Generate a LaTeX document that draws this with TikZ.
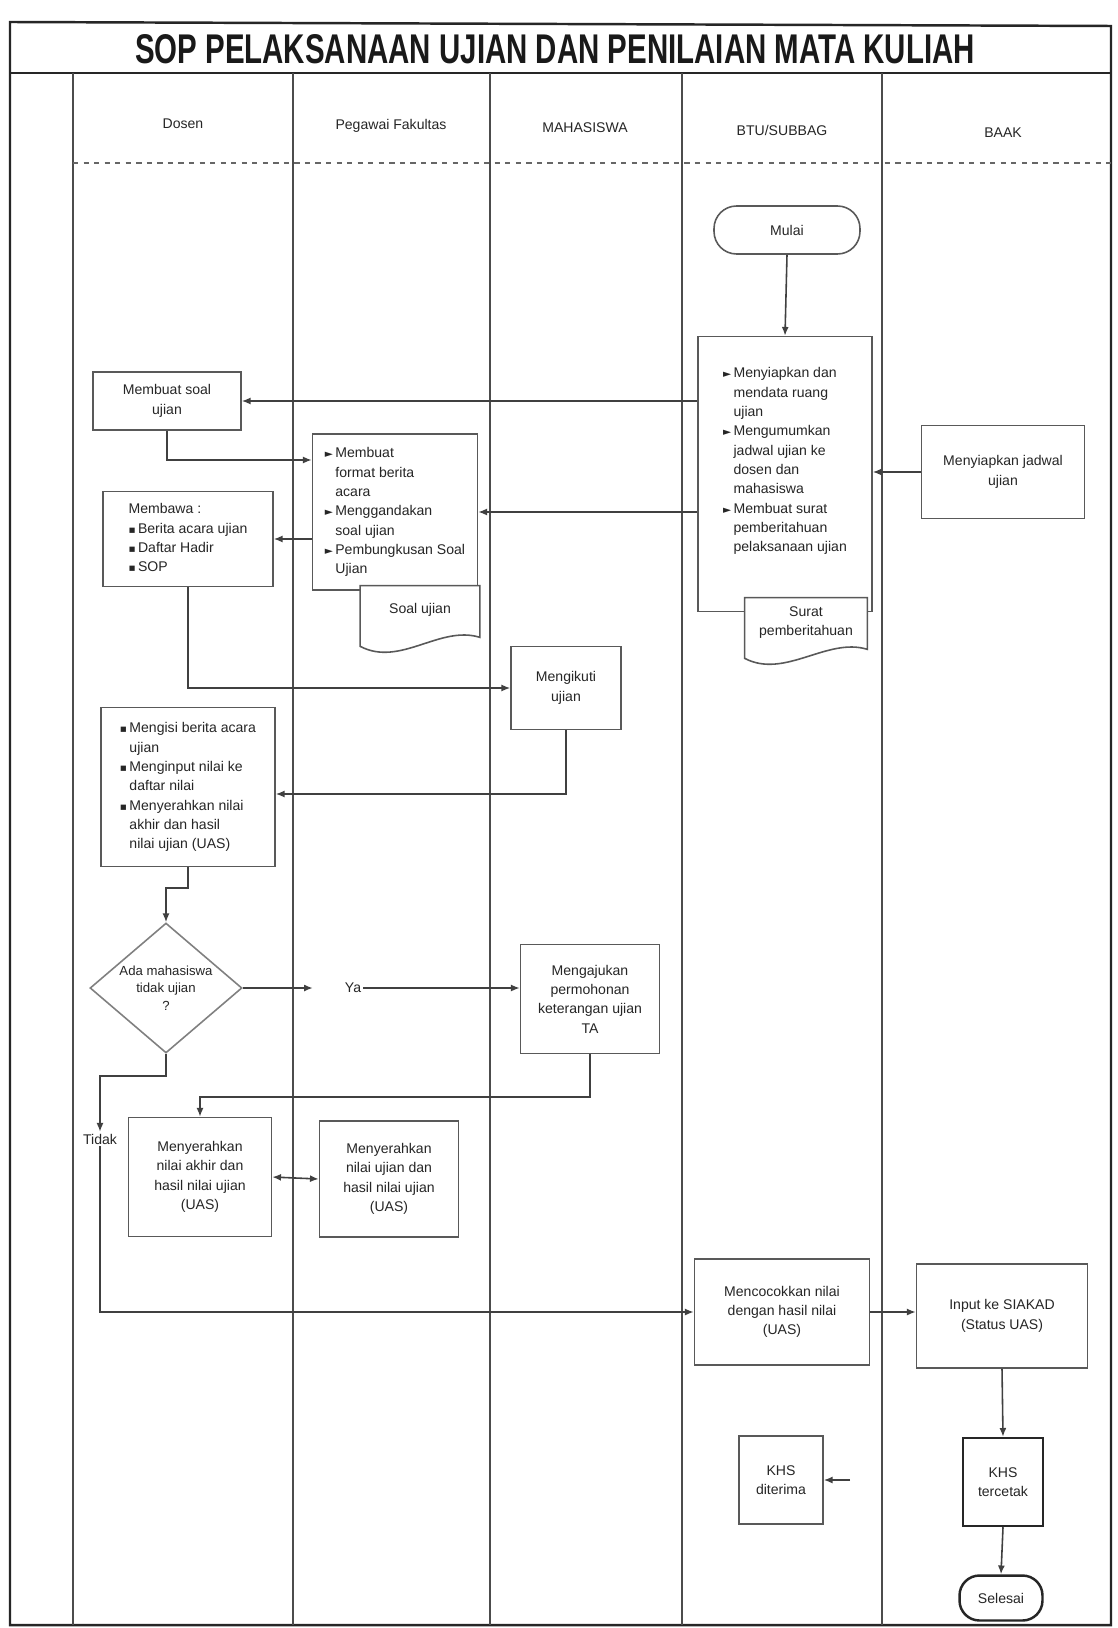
\documentclass[tikz,border=0pt]{standalone}
\usepackage{fontspec}
\setmainfont{Liberation Sans}
\newfontfamily\symf{DejaVu Sans}
\usetikzlibrary{shapes.geometric,arrows.meta}
\newcommand\bsq{{\symf\fontsize{6}{6}\selectfont ▪}}
\newcommand\barr{{\symf\fontsize{6}{6}\selectfont ►}}
\newcommand\docpath[1]{\filldraw[docline] (#1.north west) -- ([yshift=0.12cm]#1.south west) .. controls ([xshift=0.8cm,yshift=-0.3cm]#1.south west) and ([xshift=-0.8cm,yshift=0.55cm]#1.south east) .. ([yshift=0.3cm]#1.south east) -- (#1.north east) -- cycle;}
\tikzset{
  frame/.style={draw=black!85, line width=1.4pt},
  lane/.style={draw=black!70, line width=0.9pt},
  box/.style={draw=black!65, line width=0.9pt, fill=white, font=\fontsize{8}{11}\selectfont, align=center, inner sep=2pt, text=black!85},
  thickbox/.style={box, draw=black!85, line width=1.4pt},
  docline/.style={draw=black!65, line width=0.9pt, fill=white},
  doctext/.style={font=\fontsize{8}{11}\selectfont, align=center, text=black!85},
  hdr/.style={font=\fontsize{8}{10}\selectfont, text=black!85},
  lbl/.style={font=\fontsize{8}{10}\selectfont, text=black!85, inner sep=1pt},
  arr/.style={-{Latex[length=5pt,width=4pt]}, draw=black!75, line width=0.9pt},
  arrb/.style={{Latex[length=5pt,width=4pt]}-{Latex[length=5pt,width=4pt]}, draw=black!75, line width=0.9pt},
  ln/.style={draw=black!75, line width=0.9pt}
}
\begin{document}
\begin{tikzpicture}[x=0.02cm,y=-0.02cm]
\useasboundingbox (0,0) rectangle (1117,1628);
\fill[white] (0,0) rectangle (1117,1628);
% frame and lanes
\draw[frame] (10,22) -- (1111,26) -- (1111,1625) -- (10,1625) -- cycle;
\draw[frame] (10,73) -- (1111,73);
\foreach \x in {73,293,490,682,882} \draw[lane] (\x,73) -- (\x,1625);
\draw[dashed, black!60, line width=0.6pt] (73,163) -- (1111,163);
\node[text=black!90] (title) at (555,49) {\resizebox{16.8cm}{0.58cm}{\bfseries SOP PELAKSANAAN UJIAN DAN PENILAIAN MATA KULIAH}};
% headers
\node[hdr] (h1) at (183,124) {Dosen};
\node[hdr] (h2) at (391,126) {Pegawai Fakultas};
\node[hdr] (h3) at (585,128) {MAHASISWA};
\node[hdr] (h4) at (782,130) {BTU/SUBBAG};
\node[hdr] (h5) at (1003,133) {BAAK};
% nodes
\node[box, rounded corners=0.45cm, minimum width=2.92cm, minimum height=0.96cm] (mulai) at (787,230) {Mulai};
\node[box, minimum width=3.48cm, minimum height=5.5cm] (btu1) at (785,474) {\begin{tabular}{@{}l@{\,}l@{}}
\barr & Menyiapkan dan\\ & mendata ruang\\ & ujian\\
\barr & Mengumumkan\\ & jadwal ujian ke\\ & dosen dan\\ & mahasiswa\\
\barr & Membuat surat\\ & pemberitahuan\\ & pelaksanaan ujian\end{tabular}\\[14pt]};
\node[minimum width=2.44cm, minimum height=1.32cm, inner sep=0pt] (surat) at (806,631) {};
\docpath{surat}
\node[doctext] (surattxt) at ([yshift=5pt]surat.center) {Surat\\pemberitahuan};

\node[box, minimum width=2.96cm, minimum height=1.16cm] (membuat) at (167,401) {Membuat soal\\ujian};
\node[box, minimum width=3.3cm, minimum height=3.12cm] (admin1) at (395,512) {\begin{tabular}{@{}l@{\,}l@{}}
\barr & Membuat\\ & format berita\\ & acara\\
\barr & Menggandakan\\ & soal ujian\\
\barr & Pembungkusan Soal\\ & Ujian\end{tabular}};
\node[minimum width=2.38cm, minimum height=1.32cm, inner sep=0pt] (soal) at (420,619) {};
\docpath{soal}
\node[doctext] (soaltxt) at ([yshift=5pt]soal.center) {Soal ujian};

\node[box, minimum width=3.4cm, minimum height=1.9cm] (membawa) at (188,539) {\begin{tabular}{@{}l@{\,}l@{}}
\multicolumn{2}{@{}l@{}}{Membawa :}\\
\bsq & Berita acara ujian\\ \bsq & Daftar Hadir\\ \bsq & SOP\end{tabular}};
\node[box, minimum width=2.2cm, minimum height=1.66cm] (ikut) at (566,688) {Mengikuti\\ujian};
\node[box, minimum width=3.48cm, minimum height=3.18cm] (dosen3) at (188,787) {\begin{tabular}{@{}l@{\,}l@{}}
\bsq & Mengisi berita acara\\ & ujian\\
\bsq & Menginput nilai ke\\ & daftar nilai\\
\bsq & Menyerahkan nilai\\ & akhir dan hasil\\ & nilai ujian (UAS)\end{tabular}};
\node[box, diamond, aspect=1.17, minimum width=3.04cm, minimum height=2.6cm, inner sep=0pt, font=\fontsize{7.5}{10}\selectfont, draw=black!50] (dia) at (166,988) {Ada mahasiswa\\tidak ujian\\?};
\node[lbl] (ya) at (353,988) {Ya};
\node[box, minimum width=2.78cm, minimum height=2.18cm] (mhs2) at (590,999) {Mengajukan\\permohonan\\keterangan ujian\\TA};
\node[lbl, fill=white] (tidak) at (100,1139) {Tidak};
\node[box, minimum width=2.86cm, minimum height=2.38cm] (dosen4) at (200,1177) {Menyerahkan\\nilai akhir dan\\hasil nilai ujian\\(UAS)};
\node[box, minimum width=2.78cm, minimum height=2.32cm] (admin2) at (389,1179) {Menyerahkan\\nilai ujian dan\\hasil nilai ujian\\(UAS)};
\node[box, minimum width=3.5cm, minimum height=2.12cm] (btu2) at (782,1312) {Mencocokkan nilai\\dengan hasil nilai\\(UAS)};
\node[box, minimum width=3.42cm, minimum height=2.08cm] (baak2) at (1002,1316) {Input ke SIAKAD\\(Status UAS)};
\node[thickbox, minimum width=1.6cm, minimum height=1.76cm] (khs1) at (1003,1482) {KHS\\tercetak};
\node[thickbox, rounded corners=0.4cm, minimum width=1.66cm, minimum height=0.9cm] (selesai) at (1001,1598) {Selesai};
\node[box, minimum width=1.68cm, minimum height=1.76cm] (khs2) at (781,1480) {KHS\\diterima};
\node[box, minimum width=3.26cm, minimum height=1.86cm] (baak1) at (1003,472) {Menyiapkan jadwal\\ujian};
% helper coordinates
\coordinate (c1) at (0,460);
\coordinate (c2) at (0,794);
\coordinate (c3) at (0,1097);
\coordinate (c4) at (850,1480);
% connectors
\draw[arr] (mulai.south) -- (btu1.north);
\draw[arr] (btu1.west |- membuat.east) -- (membuat.east);
\draw[arr] (membuat.south) |- (admin1.west |- c1);
\draw[arr] (btu1.west |- admin1.east) -- (admin1.east);
\draw[arr] (admin1.west |- membawa.east) -- (membawa.east);
\draw[arr] (baak1.west) -- (btu1.east |- baak1.west);
\draw[arr] (membawa.south) |- (ikut.west);
\draw[arr] (ikut.south) |- (dosen3.east |- c2);
\draw[arr] (dosen3.south) -- ++(0,21) -| (dia.north);
\draw[arr] (dia.east) -- ([xshift=-0.6cm]ya.west);
\draw[arr] (ya.east) -- (mhs2.west |- ya.east);
\draw[arr] (mhs2.south) -- (mhs2.south |- c3) -| (dosen4.north);
\draw[arr] (dia.south) -- ++(0,22) -| (tidak.north);
\draw[arr] (tidak.south) |- (btu2.west);
\draw[arrb] (dosen4.east) -- (admin2.west);
\draw[arr] (btu2.east) -- (baak2.west |- btu2.east);
\draw[arr] (baak2.south) -- (khs1.north);
\draw[arr] (khs1.south) -- (selesai.north);
\draw[arr] (c4) -- (khs2.east);
\end{tikzpicture}
\end{document}
